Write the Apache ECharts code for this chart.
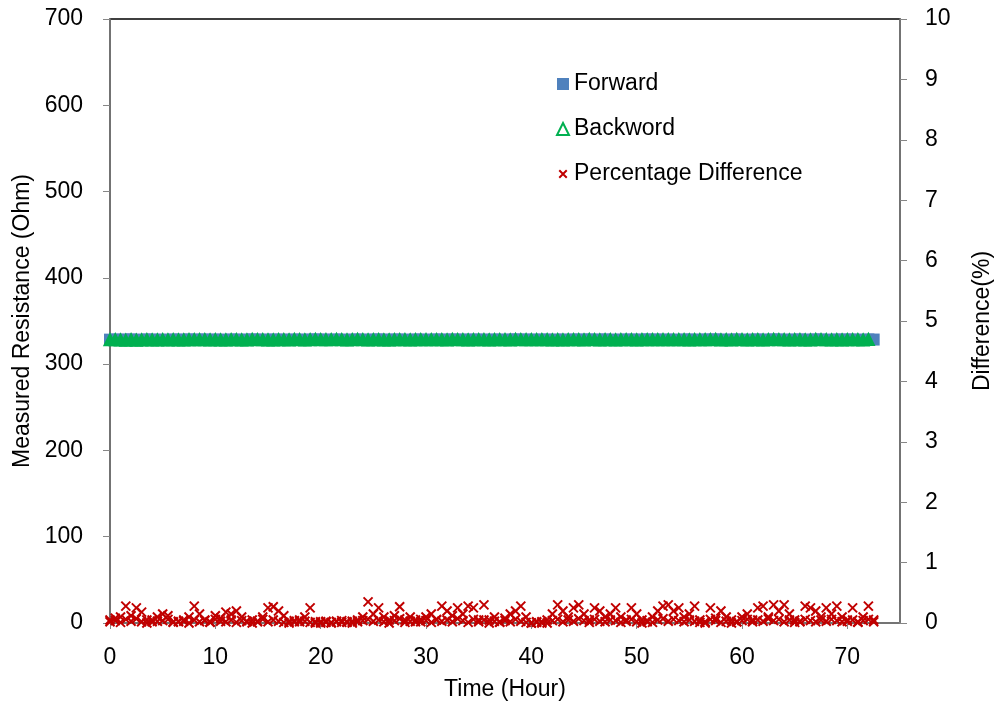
<!DOCTYPE html>
<html>
<head>
<meta charset="utf-8">
<script src="https://cdn.jsdelivr.net/npm/echarts@6/dist/echarts.min.js"></script>
<style>
html,body{margin:0;padding:0;background:#fff;overflow:hidden;width:995px;height:704px;}
#chart{width:995px;height:704px;display:block;}
</style>
</head>
<body>
<div id="chart"></div>
<script>
// Time (hour)
var hours = [0,0.5,1,1.5,2,2.5,3,3.5,4,4.5,5,5.5,6,6.5,7,7.5,8,8.5,9,9.5,
10,10.5,11,11.5,12,12.5,13,13.5,14,14.5,15,15.5,16,16.5,17,17.5,18,18.5,19,19.5,
20,20.5,21,21.5,22,22.5,23,23.5,24,24.5,25,25.5,26,26.5,27,27.5,28,28.5,29,29.5,
30,30.5,31,31.5,32,32.5,33,33.5,34,34.5,35,35.5,36,36.5,37,37.5,38,38.5,39,39.5,
40,40.5,41,41.5,42,42.5,43,43.5,44,44.5,45,45.5,46,46.5,47,47.5,48,48.5,49,49.5,
50,50.5,51,51.5,52,52.5,53,53.5,54,54.5,55,55.5,56,56.5,57,57.5,58,58.5,59,59.5,
60,60.5,61,61.5,62,62.5,63,63.5,64,64.5,65,65.5,66,66.5,67,67.5,68,68.5,69,69.5,
70,70.5,71,71.5,72,72.5];

// Forward resistance (Ohm)
var forward = [328.4,328.6,328.3,328.5,328.7,328.2,328.4,328.6,328.5,328.3,
328.4,328.2,328.6,328.5,328.3,328.7,328.4,328.5,328.6,328.3,
328.5,328.4,328.2,328.6,328.5,328.3,328.4,328.7,328.5,328.4,
328.3,328.6,328.4,328.5,328.2,328.6,328.4,328.3,328.5,328.7,
328.4,328.5,328.3,328.6,328.4,328.2,328.5,328.6,328.4,328.3,
328.5,328.7,328.4,328.3,328.6,328.5,328.4,328.2,328.6,328.5,
328.3,328.4,328.6,328.5,328.3,328.7,328.4,328.5,328.3,328.6,
328.4,328.5,328.2,328.6,328.4,328.3,328.5,328.7,328.4,328.6,
328.3,328.5,328.4,328.6,328.2,328.5,328.4,328.3,328.6,328.5,
328.4,328.7,328.3,328.5,328.6,328.4,328.2,328.5,328.4,328.6,
328.3,328.5,328.7,328.4,328.6,328.3,328.5,328.4,328.2,328.6,
328.5,328.4,328.3,328.6,328.5,328.7,328.4,328.3,328.5,328.6,
328.4,328.2,328.5,328.6,328.3,328.4,328.7,328.5,328.4,328.3,
328.5,328.6,328.4,328.3,328.7,328.5,328.4,328.2,328.6,328.4,
328.6,328.5,328.4,328.2,328.6,328.5];

// Backward resistance (Ohm)
var backward = [328.2,328.3,328.0,327.6,328.3,327.8,328.1,328.4,328.0,328.1,
328.2,328.0,328.3,328.1,328.0,328.4,328.2,328.3,328.4,328.0,
328.4,328.1,328.0,328.2,328.4,328.0,328.1,328.5,328.2,328.3,
328.1,328.1,328.3,328.4,328.0,328.5,328.3,328.1,328.2,328.6,
328.4,328.3,328.2,328.5,328.2,328.1,328.4,328.5,328.2,328.1,
328.3,328.3,328.1,328.0,328.4,328.4,328.2,328.1,328.3,328.4,
328.2,328.3,328.3,328.3,328.1,328.6,328.3,328.2,328.0,328.4,
328.4,328.3,328.1,328.3,328.3,328.2,328.0,328.5,328.3,328.3,
328.2,328.4,328.2,328.4,328.0,328.3,328.1,328.2,328.3,328.4,
328.1,328.5,328.3,328.1,328.3,328.3,328.0,328.2,328.2,328.4,
328.1,328.4,328.4,328.2,328.3,328.2,328.2,328.4,328.2,328.4,
328.0,328.3,328.2,328.4,328.3,328.5,328.1,328.3,328.1,328.5,
328.2,328.0,328.4,328.4,328.0,328.2,328.6,328.3,328.2,328.1,
328.2,328.4,328.1,328.0,328.5,328.2,328.3,328.0,328.4,328.1,
328.4,328.4,328.2,328.0,328.5];

// Percentage difference (%)
var diffA = [0.05,0.08,0.1,0.28,0.12,0.25,0.18,0.05,0.02,0.1,
0.15,0.12,0.02,0.03,0.05,0.1,0.28,0.15,0.05,0.02,
0.12,0.08,0.18,0.15,0.2,0.1,0.03,0.05,0.02,0.1,
0.25,0.27,0.2,0.12,0.03,0.02,0.05,0.1,0.25,0.02,
0.0,0.03,0.01,0.02,0.04,0.01,0.03,0.05,0.1,0.35,
0.15,0.25,0.1,0.05,0.12,0.27,0.05,0.1,0.02,0.06,
0.1,0.15,0.05,0.28,0.2,0.12,0.25,0.15,0.28,0.25,
0.05,0.3,0.05,0.1,0.02,0.08,0.15,0.2,0.28,0.1,
0.0,0.02,0.0,0.05,0.15,0.3,0.2,0.1,0.25,0.3,
0.15,0.05,0.25,0.2,0.1,0.15,0.25,0.1,0.05,0.25,
0.15,0.05,0.02,0.1,0.2,0.28,0.3,0.2,0.25,0.1,
0.15,0.28,0.05,0.0,0.25,0.08,0.2,0.1,0.05,0.02,
0.1,0.15,0.05,0.25,0.28,0.1,0.3,0.2,0.3,0.15,
0.05,0.02,0.28,0.25,0.2,0.1,0.25,0.15,0.28,0.1,
0.05,0.25,0.02,0.1,0.28,0.05];

var diffB = [0.02,0.04,0.01,0.06,0.03,0.07,0.02,0.0,0.05,0.03,
0.04,0.06,0.01,0.02,0.03,0.0,0.05,0.02,0.04,0.01,
0.06,0.03,0.02,0.05,0.01,0.04,0.02,0.0,0.03,0.06,
0.02,0.05,0.03,0.01,0.0,0.04,0.02,0.03,0.01,0.0,
0.02,0.01,0.0,0.03,0.01,0.02,0.0,0.02,0.04,0.06,
0.03,0.05,0.02,0.0,0.04,0.07,0.01,0.03,0.05,0.02,
0.04,0.01,0.06,0.03,0.05,0.02,0.07,0.04,0.01,0.06,
0.02,0.05,0.0,0.03,0.01,0.04,0.02,0.06,0.03,0.01,
0.0,0.01,0.02,0.0,0.04,0.06,0.02,0.05,0.03,0.07,
0.04,0.01,0.06,0.03,0.02,0.05,0.04,0.01,0.03,0.06,
0.02,0.0,0.04,0.01,0.05,0.07,0.03,0.06,0.04,0.02,
0.05,0.03,0.01,0.02,0.06,0.04,0.01,0.03,0.0,0.02,
0.04,0.06,0.02,0.05,0.03,0.07,0.04,0.06,0.02,0.05,
0.01,0.03,0.06,0.04,0.02,0.05,0.03,0.06,0.04,0.02,
0.03,0.05,0.01,0.04,0.06,0.02];

var xTicks = {min: 0, max: 75, interval: 10};
var leftTicks = {min: 0, max: 700, interval: 100};
var rightTicks = {min: 0, max: 10, interval: 1};

function pairs(xs, ys) {
  var out = [];
  for (var i = 0; i < xs.length && i < ys.length; i++) out.push([xs[i], ys[i]]);
  return out;
}

var FONT = 'Liberation Sans';
var FS = 23;
var crossPath = 'path://M0,0L10,10M10,0L0,10';
var crossIcon = 'path://M-3,-3M0,0L10,10M10,0L0,10M13,13';
var axisGray = '#868686';

var chart = echarts.init(document.getElementById('chart'), null, {renderer: 'canvas', width: 995, height: 704});
chart.setOption({
  animation: false,
  backgroundColor: '#ffffff',
  textStyle: {fontFamily: FONT},
  grid: {left: 110, right: 95, top: 19, bottom: 81, outerBoundsMode: 'none', containLabel: false,
    show: true, borderColor: '#000', borderWidth: 1.5, backgroundColor: 'transparent'},
  legend: {
    orient: 'vertical', left: 551, top: 67, itemWidth: 12, itemHeight: 12, itemGap: 21,
    textStyle: {fontFamily: FONT, fontSize: FS, color: '#000', lineHeight: 24},
    data: [
      {name: 'Forward', icon: 'rect', itemStyle: {color: '#4F81BD'}},
      {name: 'Backword', icon: 'triangle', itemStyle: {color: 'transparent', borderColor: '#00B050', borderWidth: 2}},
      {name: 'Percentage Difference', icon: crossIcon, itemStyle: {color: '#C00000', borderColor: '#C00000', borderWidth: 2}}
    ]
  },
  xAxis: {
    type: 'value', min: xTicks.min, max: xTicks.max, interval: xTicks.interval,
    name: 'Time (Hour)', nameLocation: 'middle', nameGap: 55,
    nameTextStyle: {fontFamily: FONT, fontSize: FS, color: '#000'},
    axisLine: {show: true, onZero: false, lineStyle: {color: axisGray, width: 1.5}},
    axisTick: {show: true, length: 6, lineStyle: {color: axisGray}},
    axisLabel: {showMaxLabel: false, fontFamily: FONT, fontSize: FS, color: '#000', margin: 23},
    splitLine: {show: false}
  },
  yAxis: [{
    type: 'value', min: leftTicks.min, max: leftTicks.max, interval: leftTicks.interval,
    name: 'Measured Resistance (Ohm)', nameLocation: 'middle', nameGap: 76, nameRotate: 90,
    nameTextStyle: {fontFamily: FONT, fontSize: FS, color: '#000'},
    axisLine: {show: true, lineStyle: {color: axisGray, width: 1.5}},
    axisTick: {show: true, length: 7, lineStyle: {color: axisGray}},
    axisLabel: {fontFamily: FONT, fontSize: FS, color: '#000', margin: 27},
    splitLine: {show: false}
  }, {
    type: 'value', position: 'right', min: rightTicks.min, max: rightTicks.max, interval: rightTicks.interval,
    name: 'Difference(%)', nameLocation: 'middle', nameGap: 71, nameRotate: 90,
    nameTextStyle: {fontFamily: FONT, fontSize: FS, color: '#000'},
    axisLine: {show: true, lineStyle: {color: axisGray, width: 1.5}},
    axisTick: {show: true, length: 7, lineStyle: {color: axisGray}},
    axisLabel: {fontFamily: FONT, fontSize: FS, color: '#000', margin: 25},
    splitLine: {show: false}
  }],
  series: [{
    name: 'Forward', type: 'scatter', yAxisIndex: 0, symbol: 'rect', symbolSize: 12,
    itemStyle: {color: '#4F81BD', opacity: 1},
    data: pairs(hours, forward), z: 2
  }, {
    name: 'Backword', type: 'scatter', yAxisIndex: 0, symbol: 'triangle', symbolSize: 11,
    itemStyle: {color: '#00B050', borderColor: '#00B050', borderWidth: 2, opacity: 1},
    data: pairs(hours, backward), z: 3
  }, {
    name: 'Percentage Difference', type: 'scatter', yAxisIndex: 1, symbol: crossPath, symbolSize: 9,
    itemStyle: {color: '#C00000', borderColor: '#C00000', borderWidth: 2, opacity: 1},
    data: pairs(hours, diffA).concat(pairs(hours, diffB)), z: 4
  }]
});
</script>
</body>
</html>
